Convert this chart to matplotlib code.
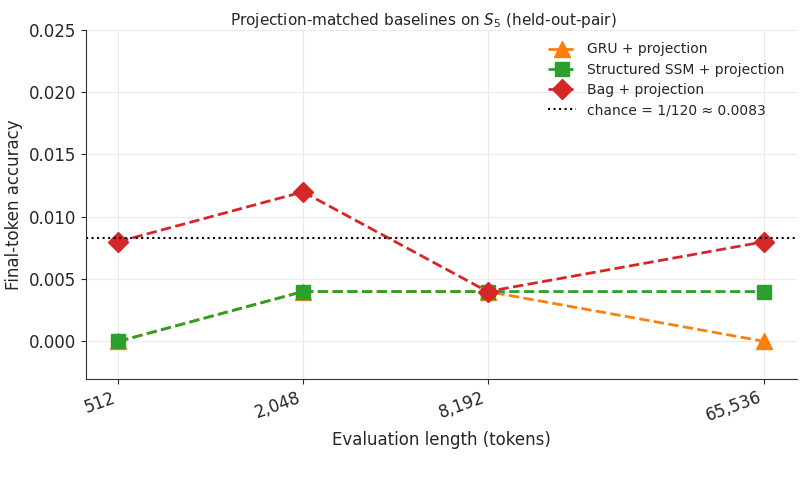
import matplotlib
matplotlib.use("Agg")
import matplotlib.pyplot as plt
from matplotlib.ticker import FixedLocator, NullLocator

eval_lengths = [512, 2048, 8192, 65536]
tick_labels = ["512", "2,048", "8,192", "65,536"]
gru_acc = [0.0, 0.004, 0.004, 0.0]
ssm_acc = [0.0, 0.004, 0.004, 0.004]
bag_acc = [0.008, 0.012, 0.004, 0.008]
chance = 1 / 120

plt.rcParams["text.color"] = "#262626"
plt.rcParams["axes.labelcolor"] = "#262626"
plt.rcParams["xtick.color"] = "#262626"
plt.rcParams["ytick.color"] = "#262626"

fig, ax = plt.subplots(figsize=(8.04, 4.90), dpi=100)

ax.plot(eval_lengths, gru_acc, linestyle="--", marker="^", color="#ff7f0e",
        lw=2, ms=11, label="GRU + projection")
ax.plot(eval_lengths, ssm_acc, linestyle="--", marker="s", color="#2ca02c",
        lw=2, ms=10, label="Structured SSM + projection")
ax.plot(eval_lengths, bag_acc, linestyle="--", marker="D", color="#d62728",
        lw=2, ms=10, label="Bag + projection")
ax.axhline(chance, color="black", linestyle=":", lw=1.5,
           label="chance = 1/120 \u2248 0.0083")

ax.set_xscale("log", base=2)
ax.xaxis.set_major_locator(FixedLocator(eval_lengths))
ax.xaxis.set_minor_locator(NullLocator())
ax.set_xticklabels(tick_labels, rotation=20, ha="right", fontsize=12)
ax.set_ylim(-0.003, 0.025)
ax.set_yticks([0.0, 0.005, 0.010, 0.015, 0.020, 0.025])
ax.set_yticklabels(["0.000", "0.005", "0.010", "0.015", "0.020", "0.025"], fontsize=12)

ax.grid(True, color="#ebebeb", lw=0.8)
ax.set_axisbelow(True)
for s in ["top", "right"]:
    ax.spines[s].set_visible(False)
for s in ["left", "bottom"]:
    ax.spines[s].set_color("#333333")

ax.set_xlabel("Evaluation length (tokens)", fontsize=12)
ax.set_ylabel("Final-token accuracy", fontsize=12)
ax.set_title("Projection-matched baselines on $S_5$ (held-out-pair)", fontsize=11,
             x=0.475, pad=3)
ax.legend(loc="upper right", frameon=False, fontsize=10, labelspacing=0.45)

fig.subplots_adjust(left=0.107, right=0.991, top=0.939, bottom=0.227)
fig.savefig("out.png", dpi=100)
